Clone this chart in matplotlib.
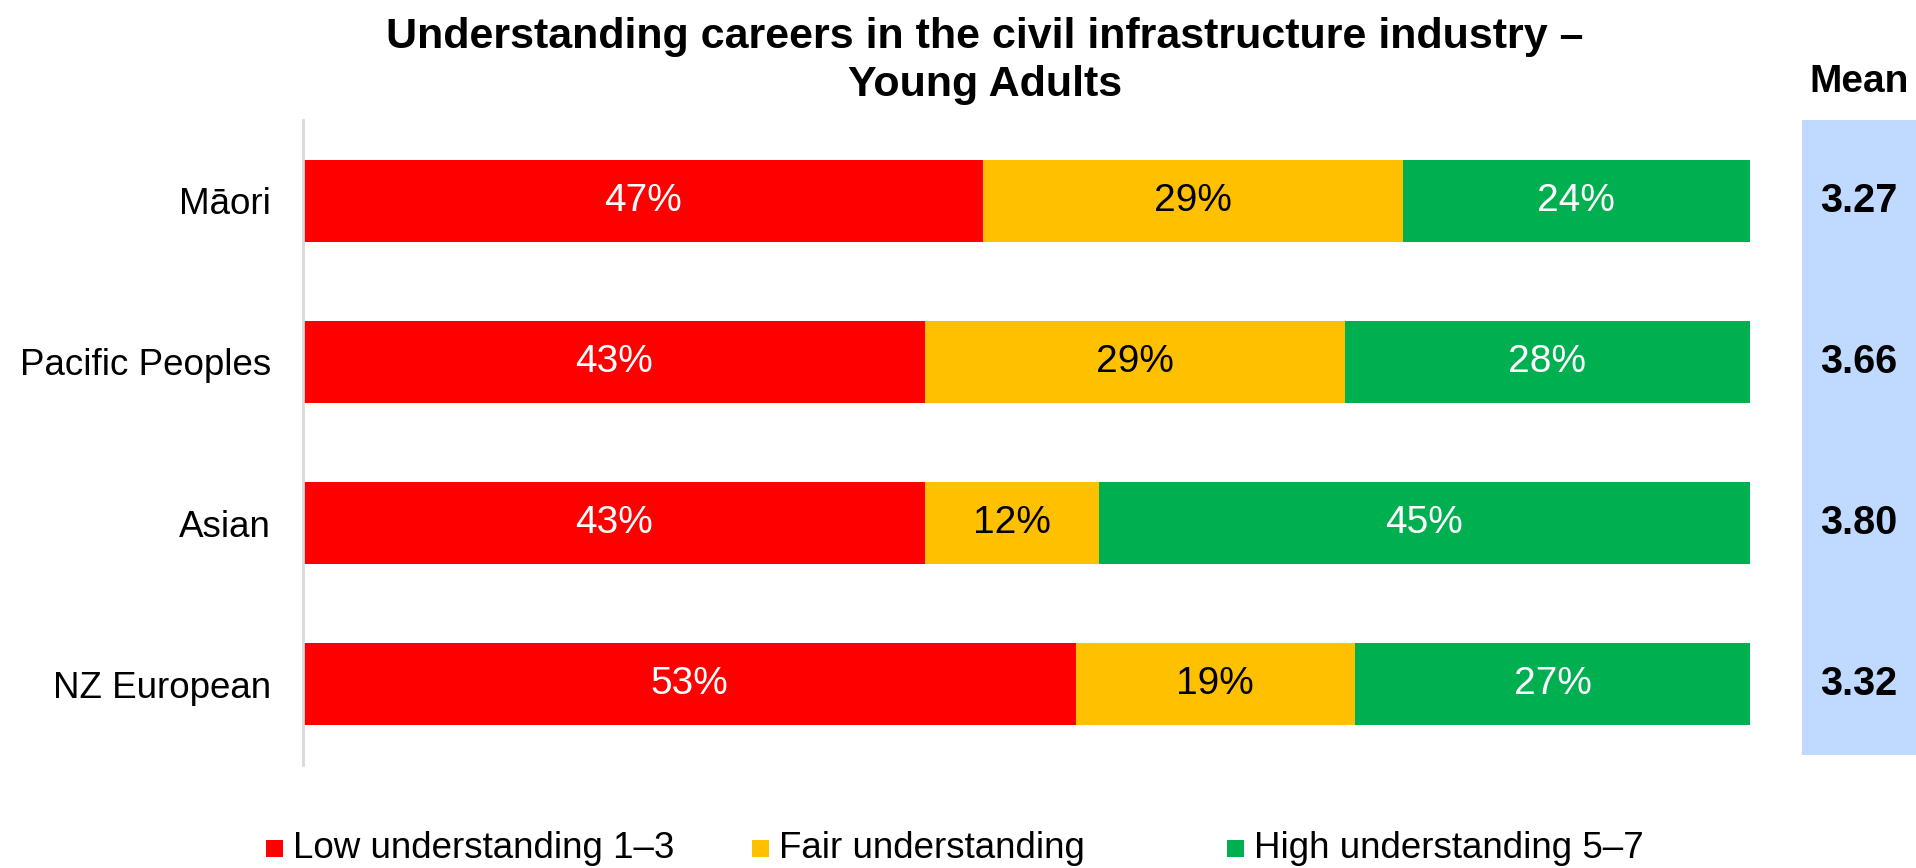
import matplotlib.pyplot as plt
from matplotlib.patches import Rectangle
from matplotlib.transforms import blended_transform_factory

plt.rcParams['font.family'] = ['Liberation Sans', 'DejaVu Sans']

# Share of young adults at each level of understanding, by ethnic group
groups = ['Māori', 'Pacific Peoples', 'Asian', 'NZ European']
low = [47, 43, 43, 53.4]
fair = [29, 29, 12, 19.3]
high = [24, 28, 45, 27.3]
means = [3.27, 3.66, 3.80, 3.32]

series_names = ['Low understanding 1–3', 'Fair understanding', 'High understanding 5–7']
colors = ['#FF0000', '#FFC000', '#00B050']
label_colors = ['white', 'black', 'white']

W, H = 1916, 868
fig = plt.figure(figsize=(W / 100, H / 100), dpi=100)

ax = fig.add_axes([303 / W, 1 - 765 / H, (1750 - 303) / W, 645 / H])
ypos = list(range(len(groups)))
left = [0] * len(groups)
for vals, col, tcol in zip([low, fair, high], colors, label_colors):
    bars = ax.barh(ypos, vals, left=left, height=0.51, color=col)
    for bar, v in zip(bars, vals):
        ax.text(bar.get_x() + bar.get_width() / 2, bar.get_y() + bar.get_height() / 2,
                f'{v:.0f}%', ha='center', va='center', color=tcol, fontsize=28)
    left = [a + b for a, b in zip(left, vals)]

ax.set_xlim(0, 100)
ax.set_ylim(3.5, -0.5)
ax.set_xticks([])
ax.set_yticks(ypos, groups)
ax.tick_params(axis='y', length=0, pad=23, labelsize=26.5)
for side in ['top', 'right', 'bottom']:
    ax.spines[side].set_visible(False)
ax.spines['left'].set_color('#D9D9D9')
ax.spines['left'].set_linewidth(2)

# Mean score column on the right
fig.patches.append(Rectangle((1802 / W, 1 - 755 / H), (W - 1802) / W, 635 / H,
                             transform=fig.transFigure, facecolor='#BFD9FF',
                             edgecolor='none', zorder=-1))
trans = blended_transform_factory(fig.transFigure, ax.transData)
for yy, m in zip(ypos, means):
    fig.text(1859 / W, yy, f'{m:.2f}', transform=trans, ha='center', va='center',
             fontsize=28.5, fontweight='bold', zorder=5)
fig.text(1859 / W, 1 - 82 / H, 'Mean', ha='center', va='center',
         fontsize=28, fontweight='bold')

fig.text(985 / W, 1 - 61 / H,
         'Understanding careers in the civil infrastructure industry –\nYoung Adults',
         ha='center', va='center', fontsize=31, fontweight='bold', linespacing=1.25)

# Legend row
legend_x = [266, 752, 1227]
for x0, name, col in zip(legend_x, series_names, colors):
    fig.patches.append(Rectangle((x0 / W, 1 - 857 / H), 17 / W, 17 / H,
                                 transform=fig.transFigure, facecolor=col, edgecolor='none'))
    fig.text((x0 + 27) / W, 1 - 848 / H, name, ha='left', va='center', fontsize=26.5)

fig.savefig('out.png', dpi=100)
